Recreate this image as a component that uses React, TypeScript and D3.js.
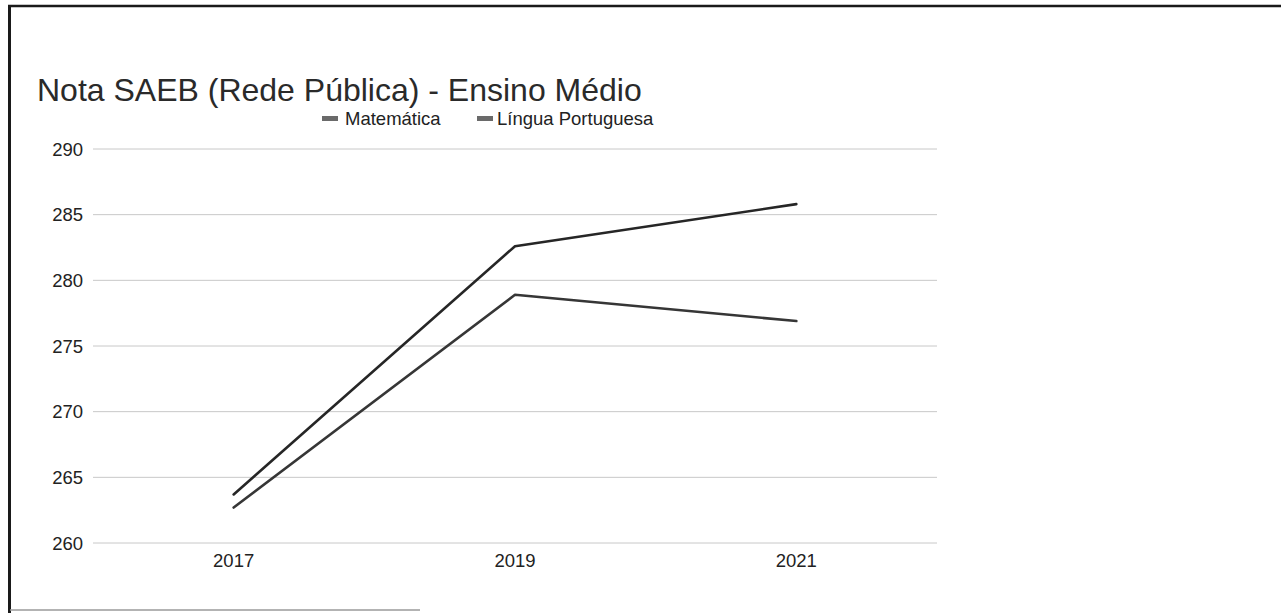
import React from "react";
import * as d3 from "d3";

const years = ["2017", "2019", "2021"];
const matematica = [263.7, 282.6, 285.8];
const portugues = [262.7, 278.9, 276.9];
const yTicks = [260, 265, 270, 275, 280, 285, 290];
const seriesNames = ["Matemática", "Língua Portuguesa"];
const title = "Nota SAEB (Rede Pública) - Ensino Médio";

const W = 1281;
const H = 613;
const FONT = "'Liberation Sans', Arial, Helvetica, sans-serif";

export default function App() {
  const x = d3.scalePoint<string>().domain(years).range([93, 937]).padding(0.5);
  const y = d3.scaleLinear().domain([260, 290]).range([543, 149]);
  const line = d3
    .line<number>()
    .x((_, i) => x(years[i]) as number)
    .y((d) => y(d));

  const series = [
    { name: seriesNames[0], values: matematica, color: "#262626" },
    { name: seriesNames[1], values: portugues, color: "#363636" },
  ];

  const legendItems = [
    { name: seriesNames[0], sx: 322, tx: 345, color: "#6a6a6a" },
    { name: seriesNames[1], sx: 477, tx: 497, color: "#6a6a6a" },
  ];

  return (
    <div style={{ position: "fixed", left: 0, top: 0, width: W, height: H, background: "#fff" }}>
      <svg width={W} height={H} style={{ display: "block", fontFamily: FONT }}>
        <rect x={0} y={0} width={W} height={H} fill="#fff" />
        <line x1={9.5} y1={5} x2={9.5} y2={H} stroke="#1a1a1a" strokeWidth={3} />
        <line x1={8} y1={6} x2={W} y2={6} stroke="#1a1a1a" strokeWidth={2.5} />
        <line x1={10} y1={610} x2={420} y2={610} stroke="#9a9a9a" strokeWidth={1.5} />

        <text x={37} y={101} fontSize={32} fill="#2a2a2a">
          {title}
        </text>

        {legendItems.map((l) => (
          <g key={l.name}>
            <rect x={l.sx} y={116} width={16} height={5} fill={l.color} />
            <text x={l.tx} y={125} fontSize={18.5} fill="#222">
              {l.name}
            </text>
          </g>
        ))}

        {yTicks.map((t) => (
          <g key={t}>
            <line x1={93} x2={937} y1={y(t)} y2={y(t)} stroke="#c8c8c8" strokeWidth={1} />
            <text x={83} y={y(t)} dy="0.36em" textAnchor="end" fontSize={18.5} fill="#222">
              {t}
            </text>
          </g>
        ))}

        {years.map((yr) => (
          <text key={yr} x={x(yr)} y={567} textAnchor="middle" fontSize={18.5} fill="#222">
            {yr}
          </text>
        ))}

        {series.map((s) => (
          <path
            key={s.name}
            d={line(s.values) || ""}
            fill="none"
            stroke={s.color}
            strokeWidth={2.6}
            strokeLinejoin="round"
            strokeLinecap="round"
          />
        ))}
      </svg>
    </div>
  );
}
